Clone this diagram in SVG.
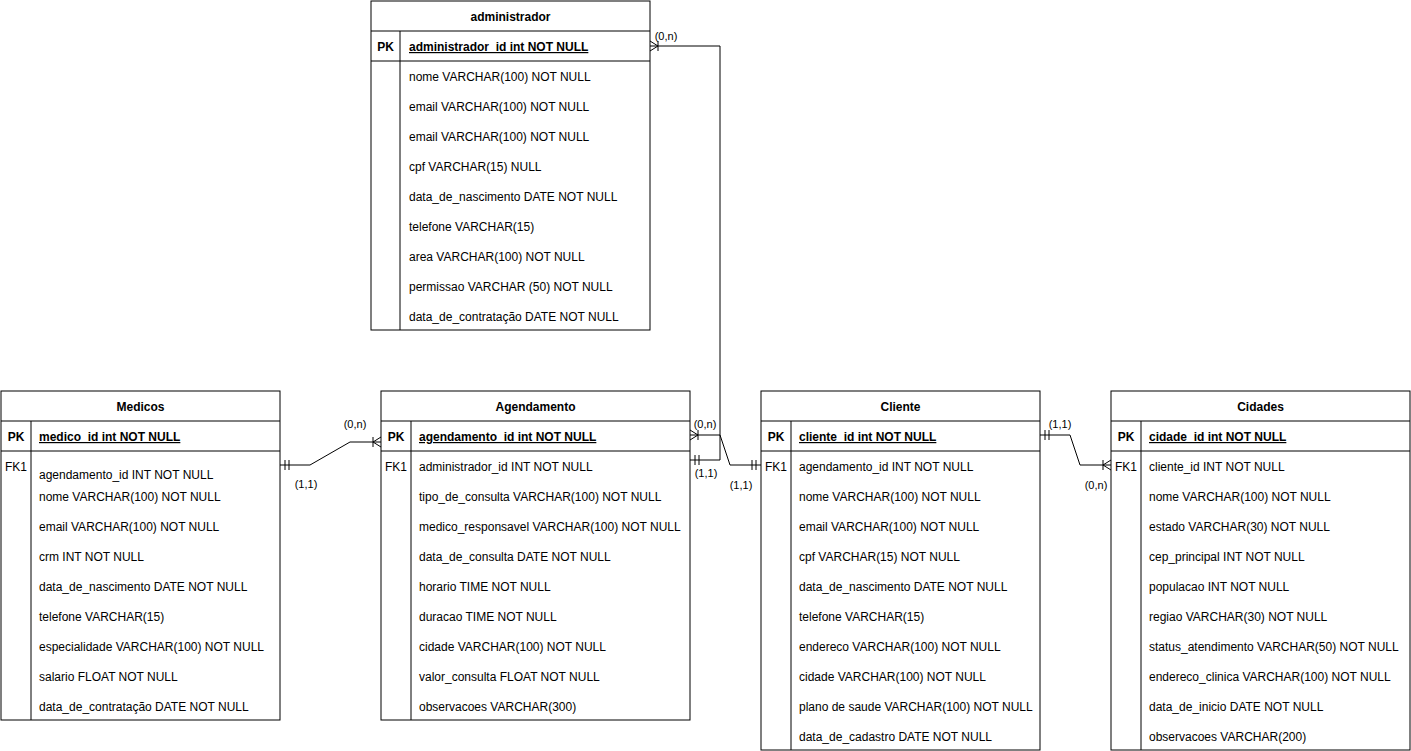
<svg xmlns="http://www.w3.org/2000/svg" width="1411" height="751" viewBox="0 0 1411 751">
<style>
.box{fill:#fff;stroke:#000;stroke-width:1}
.ln{stroke:#000;stroke-width:1;fill:none}
text{font-family:"Liberation Sans",Arial,Helvetica,sans-serif;font-size:12px;fill:#000}
.t{font-weight:bold;text-anchor:middle}
.k{font-weight:bold;text-anchor:middle}
.fk{text-anchor:middle}
.pk{font-weight:bold;text-decoration:underline}
.lbl{font-size:11px;text-anchor:middle}
.edge{stroke:#000;stroke-width:1;fill:none}
</style>
<defs>
<marker id="one" markerUnits="userSpaceOnUse" viewBox="-12 -7 14 14" refX="0" refY="0" markerWidth="14" markerHeight="14" orient="auto-start-reverse">
<path d="M-5,-5V5M-9,-5V5" stroke="#000" stroke-width="1" fill="none"/>
</marker>
<marker id="many" markerUnits="userSpaceOnUse" viewBox="-12 -7 14 14" refX="0" refY="0" markerWidth="14" markerHeight="14" orient="auto-start-reverse">
<path d="M-8,0L0,-5M-8,0L0,5M-8,-5V5" stroke="#000" stroke-width="1" fill="none"/>
</marker>
</defs>
<rect width="1411" height="751" fill="#fff"/>

<g id="connectors">
<path class="edge" d="M690,460H720V46H650" marker-start="url(#one)" marker-end="url(#many)"/>
<path class="edge" d="M690,435H720L730,465H761" marker-start="url(#many)" marker-end="url(#one)"/>
<path class="edge" d="M280,465H310L350,442H381" marker-start="url(#one)" marker-end="url(#many)"/>
<path class="edge" d="M1040,435H1070L1080,465H1111" marker-start="url(#one)" marker-end="url(#many)"/>
<text class="lbl" x="666" y="40">(0,n)</text>
<text class="lbl" x="705" y="428">(0,n)</text>
<text class="lbl" x="706" y="477">(1,1)</text>
<text class="lbl" x="741" y="489">(1,1)</text>
<text class="lbl" x="355" y="428">(0,n)</text>
<text class="lbl" x="306" y="488">(1,1)</text>
<text class="lbl" x="1060" y="428">(1,1)</text>
<text class="lbl" x="1096" y="489">(0,n)</text>
</g>

<g id="administrador">
<rect class="box" x="371" y="1" width="279" height="329"/>
<path class="ln" d="M371,31H650M371,61H650M400,31V330"/>
<text class="t" x="510.5" y="21">administrador</text>
<text class="k" x="385.5" y="51">PK</text>
<text class="pk" x="409" y="51">administrador_id int NOT NULL</text>
<text x="409" y="81">nome VARCHAR(100) NOT NULL</text>
<text x="409" y="111">email VARCHAR(100) NOT NULL</text>
<text x="409" y="141">email VARCHAR(100) NOT NULL</text>
<text x="409" y="171">cpf VARCHAR(15) NULL</text>
<text x="409" y="201">data_de_nascimento DATE NOT NULL</text>
<text x="409" y="231">telefone VARCHAR(15)</text>
<text x="409" y="261">area VARCHAR(100) NOT NULL</text>
<text x="409" y="291">permissao VARCHAR (50) NOT NULL</text>
<text x="409" y="321">data_de_contratação DATE NOT NULL</text>
</g>

<g id="medicos">
<rect class="box" x="1" y="391" width="279" height="329"/>
<path class="ln" d="M1,421H280M1,451H280M31,421V720"/>
<text class="t" x="140.5" y="411">Medicos</text>
<text class="k" x="16" y="441">PK</text>
<text class="pk" x="39" y="441">medico_id int NOT NULL</text>
<text class="fk" x="16" y="471">FK1</text>
<text x="39" y="479">agendamento_id INT NOT NULL</text>
<text x="39" y="501">nome VARCHAR(100) NOT NULL</text>
<text x="39" y="531">email VARCHAR(100) NOT NULL</text>
<text x="39" y="561">crm INT NOT NULL</text>
<text x="39" y="591">data_de_nascimento DATE NOT NULL</text>
<text x="39" y="621">telefone VARCHAR(15)</text>
<text x="39" y="651">especialidade VARCHAR(100) NOT NULL</text>
<text x="39" y="681">salario FLOAT NOT NULL</text>
<text x="39" y="711">data_de_contratação DATE NOT NULL</text>
</g>

<g id="agendamento">
<rect class="box" x="381" y="391" width="309" height="329"/>
<path class="ln" d="M381,421H690M381,451H690M411,421V720"/>
<text class="t" x="535.5" y="411">Agendamento</text>
<text class="k" x="396" y="441">PK</text>
<text class="pk" x="419" y="441">agendamento_id int NOT NULL</text>
<text class="fk" x="396" y="471">FK1</text>
<text x="419" y="471">administrador_id INT NOT NULL</text>
<text x="419" y="501">tipo_de_consulta VARCHAR(100) NOT NULL</text>
<text x="419" y="531">medico_responsavel VARCHAR(100) NOT NULL</text>
<text x="419" y="561">data_de_consulta DATE NOT NULL</text>
<text x="419" y="591">horario TIME NOT NULL</text>
<text x="419" y="621">duracao TIME NOT NULL</text>
<text x="419" y="651">cidade VARCHAR(100) NOT NULL</text>
<text x="419" y="681">valor_consulta FLOAT NOT NULL</text>
<text x="419" y="711">observacoes VARCHAR(300)</text>
</g>

<g id="cliente">
<rect class="box" x="761" y="391" width="279" height="359"/>
<path class="ln" d="M761,421H1040M761,451H1040M791,421V750"/>
<text class="t" x="900.5" y="411">Cliente</text>
<text class="k" x="776" y="441">PK</text>
<text class="pk" x="799" y="441">cliente_id int NOT NULL</text>
<text class="fk" x="776" y="471">FK1</text>
<text x="799" y="471">agendamento_id INT NOT NULL</text>
<text x="799" y="501">nome VARCHAR(100) NOT NULL</text>
<text x="799" y="531">email VARCHAR(100) NOT NULL</text>
<text x="799" y="561">cpf VARCHAR(15) NOT NULL</text>
<text x="799" y="591">data_de_nascimento DATE NOT NULL</text>
<text x="799" y="621">telefone VARCHAR(15)</text>
<text x="799" y="651">endereco VARCHAR(100) NOT NULL</text>
<text x="799" y="681">cidade VARCHAR(100) NOT NULL</text>
<text x="799" y="711">plano de saude VARCHAR(100) NOT NULL</text>
<text x="799" y="741">data_de_cadastro DATE NOT NULL</text>
</g>

<g id="cidades">
<rect class="box" x="1111" y="391" width="299" height="359"/>
<path class="ln" d="M1111,421H1410M1111,451H1410M1141,421V750"/>
<text class="t" x="1260.5" y="411">Cidades</text>
<text class="k" x="1126" y="441">PK</text>
<text class="pk" x="1149" y="441">cidade_id int NOT NULL</text>
<text class="fk" x="1126" y="471">FK1</text>
<text x="1149" y="471">cliente_id INT NOT NULL</text>
<text x="1149" y="501">nome VARCHAR(100) NOT NULL</text>
<text x="1149" y="531">estado VARCHAR(30) NOT NULL</text>
<text x="1149" y="561">cep_principal INT NOT NULL</text>
<text x="1149" y="591">populacao INT NOT NULL</text>
<text x="1149" y="621">regiao VARCHAR(30) NOT NULL</text>
<text x="1149" y="651">status_atendimento VARCHAR(50) NOT NULL</text>
<text x="1149" y="681">endereco_clinica VARCHAR(100) NOT NULL</text>
<text x="1149" y="711">data_de_inicio DATE NOT NULL</text>
<text x="1149" y="741">observacoes VARCHAR(200)</text>
</g>
</svg>
